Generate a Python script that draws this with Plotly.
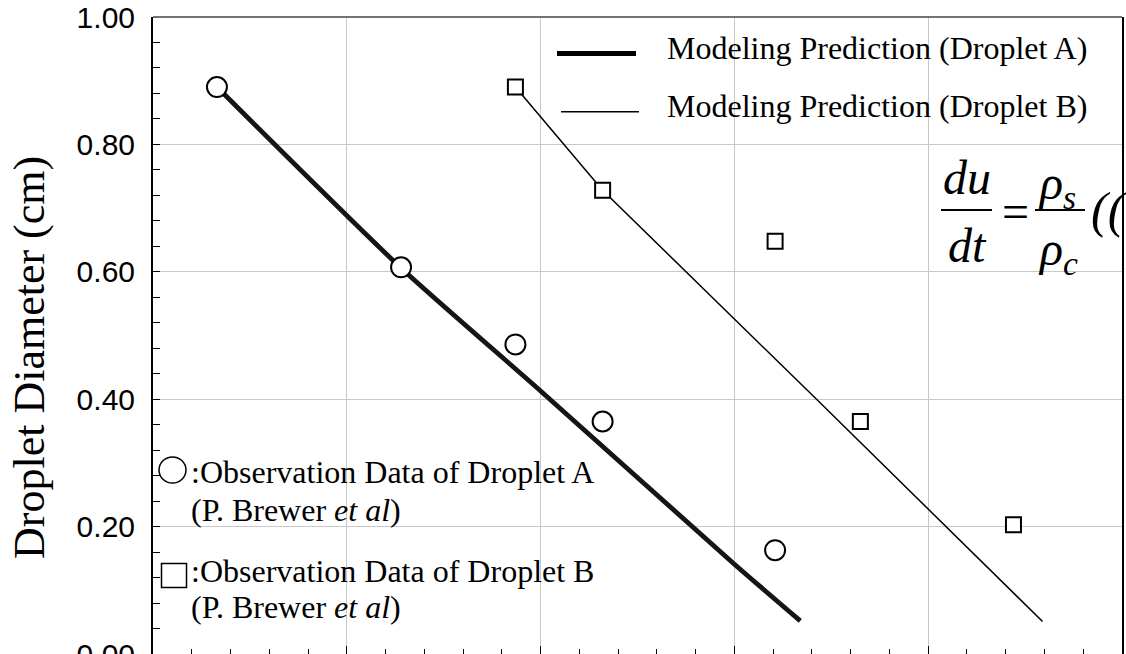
import plotly.graph_objects as go

# ---------------- data ----------------
obs_a_x = [3.3, 12.8, 18.7, 23.2, 32.1]
obs_a_y = [0.890, 0.607, 0.486, 0.365, 0.163]
obs_b_x = [18.7, 23.2, 32.1, 36.5, 44.4]
obs_b_y = [0.890, 0.728, 0.648, 0.365, 0.203]
model_a_x = [3.3, 12.8, 20.0, 30.0, 33.4]
model_a_y = [0.890, 0.606, 0.413, 0.141, 0.052]
model_b_x = [18.7, 23.2, 34.2, 45.9]
model_b_y = [0.890, 0.728, 0.401, 0.051]

y_title = "Droplet Diameter (cm)"
legend_a = "Modeling Prediction (Droplet A)"
legend_b = "Modeling Prediction (Droplet B)"
obs_a_label = ":Observation Data of Droplet A"
obs_b_label = ":Observation Data of Droplet B"
source_label = "(P. Brewer <i>et al</i>)"

# ---------------- layout geometry ----------------
W, H = 1126, 654
ML, MR, MT, MB = 153, 4, 17, 0
PW, PH = W - ML - MR, H - MT - MB


def px(xp):
    return (xp - ML) / PW


def py(yp):
    return (H - MB - yp) / PH


SERIF = "Liberation Serif, Times New Roman, serif"
SANS = "Liberation Sans, Arial, sans-serif"

fig = go.Figure()
fig.add_trace(go.Scatter(x=model_a_x, y=model_a_y, mode="lines",
                         line=dict(color="#151515", width=4.8, shape="spline", smoothing=0.6),
                         showlegend=False))
fig.add_trace(go.Scatter(x=model_b_x, y=model_b_y, mode="lines",
                         line=dict(color="black", width=1.5), showlegend=False))
fig.add_trace(go.Scatter(x=obs_a_x, y=obs_a_y, mode="markers",
                         marker=dict(symbol="circle", size=20, color="white",
                                     line=dict(color="black", width=2)),
                         showlegend=False, cliponaxis=False))
fig.add_trace(go.Scatter(x=obs_b_x, y=obs_b_y, mode="markers",
                         marker=dict(symbol="square", size=15, color="white",
                                     line=dict(color="black", width=2)),
                         showlegend=False, cliponaxis=False))

ann = []
shapes = []

# frame: top border line
shapes.append(dict(type="line", xref="paper", yref="paper", x0=0, x1=1, y0=1, y1=1,
                   line=dict(color="#444444", width=1.5)))

# y title
ann.append(dict(text=y_title, x=px(29), y=py(358), xref="paper", yref="paper",
                showarrow=False, textangle=-90, xanchor="center", yanchor="middle",
                font=dict(family=SERIF, size=44, color="black")))

# legend (top right)
shapes.append(dict(type="line", xref="paper", yref="paper", x0=px(557), x1=px(636),
                   y0=py(53.5), y1=py(53.5), line=dict(color="black", width=5)))
shapes.append(dict(type="line", xref="paper", yref="paper", x0=px(561), x1=px(639),
                   y0=py(111.7), y1=py(111.7), line=dict(color="black", width=1.5)))
ann.append(dict(text=legend_a, x=px(665), y=py(48), xref="paper", yref="paper",
                showarrow=False, xanchor="left", yanchor="middle",
                font=dict(family=SERIF, size=32, color="black")))
ann.append(dict(text=legend_b, x=px(665), y=py(106), xref="paper", yref="paper",
                showarrow=False, xanchor="left", yanchor="middle",
                font=dict(family=SERIF, size=32, color="black")))

# observation key (bottom left)
shapes.append(dict(type="circle", xref="paper", yref="paper",
                   x0=px(159), x1=px(186), y0=py(457), y1=py(483),
                   line=dict(color="black", width=1.5), fillcolor="white"))
shapes.append(dict(type="rect", xref="paper", yref="paper",
                   x0=px(161.5), x1=px(186.5), y0=py(563.5), y1=py(587.5),
                   line=dict(color="black", width=1.5), fillcolor="white"))
for txt, yy, xx in [(obs_a_label, 471.7, 189), (source_label, 510, 189),
                    (obs_b_label, 570.7, 189), (source_label, 606.7, 189)]:
    ann.append(dict(text=txt, x=px(xx), y=py(yy), xref="paper", yref="paper",
                    showarrow=False, xanchor="left", yanchor="middle",
                    font=dict(family=SERIF, size=32, color="black")))

# equation fragment (right)
EQ = 48
ann.append(dict(text="<i>du</i>", x=px(967), y=py(177), xref="paper", yref="paper",
                showarrow=False, xanchor="center", yanchor="middle",
                font=dict(family=SERIF, size=EQ, color="black")))
ann.append(dict(text="<i>dt</i>", x=px(967), y=py(245), xref="paper", yref="paper",
                showarrow=False, xanchor="center", yanchor="middle",
                font=dict(family=SERIF, size=EQ, color="black")))
shapes.append(dict(type="line", xref="paper", yref="paper", x0=px(941), x1=px(992),
                   y0=py(210), y1=py(210), line=dict(color="black", width=2)))
ann.append(dict(text="=", x=px(1015), y=py(211), xref="paper", yref="paper",
                showarrow=False, xanchor="center", yanchor="middle",
                font=dict(family=SERIF, size=EQ, color="black")))
ann.append(dict(text="<i>ρ<sub>s</sub></i>", x=px(1036), y=py(186), xref="paper", yref="paper",
                showarrow=False, xanchor="left", yanchor="middle",
                font=dict(family=SERIF, size=EQ, color="black")))
ann.append(dict(text="<i>ρ<sub>c</sub></i>", x=px(1036), y=py(252), xref="paper", yref="paper",
                showarrow=False, xanchor="left", yanchor="middle",
                font=dict(family=SERIF, size=EQ, color="black")))
shapes.append(dict(type="line", xref="paper", yref="paper", x0=px(1035), x1=px(1085),
                   y0=py(210), y1=py(210), line=dict(color="black", width=2)))
ann.append(dict(text="<i>((</i>", x=px(1089), y=py(210), xref="paper", yref="paper",
                showarrow=False, xanchor="left", yanchor="middle",
                font=dict(family=SERIF, size=50, color="black")))

fig.update_layout(
    width=W, height=H,
    margin=dict(l=ML, r=MR, t=MT, b=MB, pad=0, autoexpand=False),
    paper_bgcolor="white", plot_bgcolor="white",
    showlegend=False,
    annotations=ann, shapes=shapes,
    xaxis=dict(range=[0, 50], dtick=10, tick0=0, showgrid=True, gridcolor="#c8c8c8",
               gridwidth=1, zeroline=False, showline=False, automargin=False,
               ticks="inside", ticklen=8, tickcolor="black",
               showticklabels=False,
               minor=dict(dtick=2, ticks="inside", ticklen=5, tickcolor="black",
                          showgrid=False)),
    yaxis=dict(range=[0, 1], dtick=0.2, tick0=0, tickformat=".2f", showgrid=True,
               gridcolor="#c8c8c8", gridwidth=1, zeroline=False, showline=True,
               automargin=False,
               linecolor="black", linewidth=2, mirror=True, ticks="inside", ticklen=7,
               tickcolor="black", ticklabelstandoff=10, ticklabeloverflow="allow",
               tickfont=dict(family=SANS, size=30, color="black"),
               minor=dict(dtick=0.04, ticks="inside", ticklen=7, tickcolor="black",
                          showgrid=False)),
)

fig.write_html("out.html")
